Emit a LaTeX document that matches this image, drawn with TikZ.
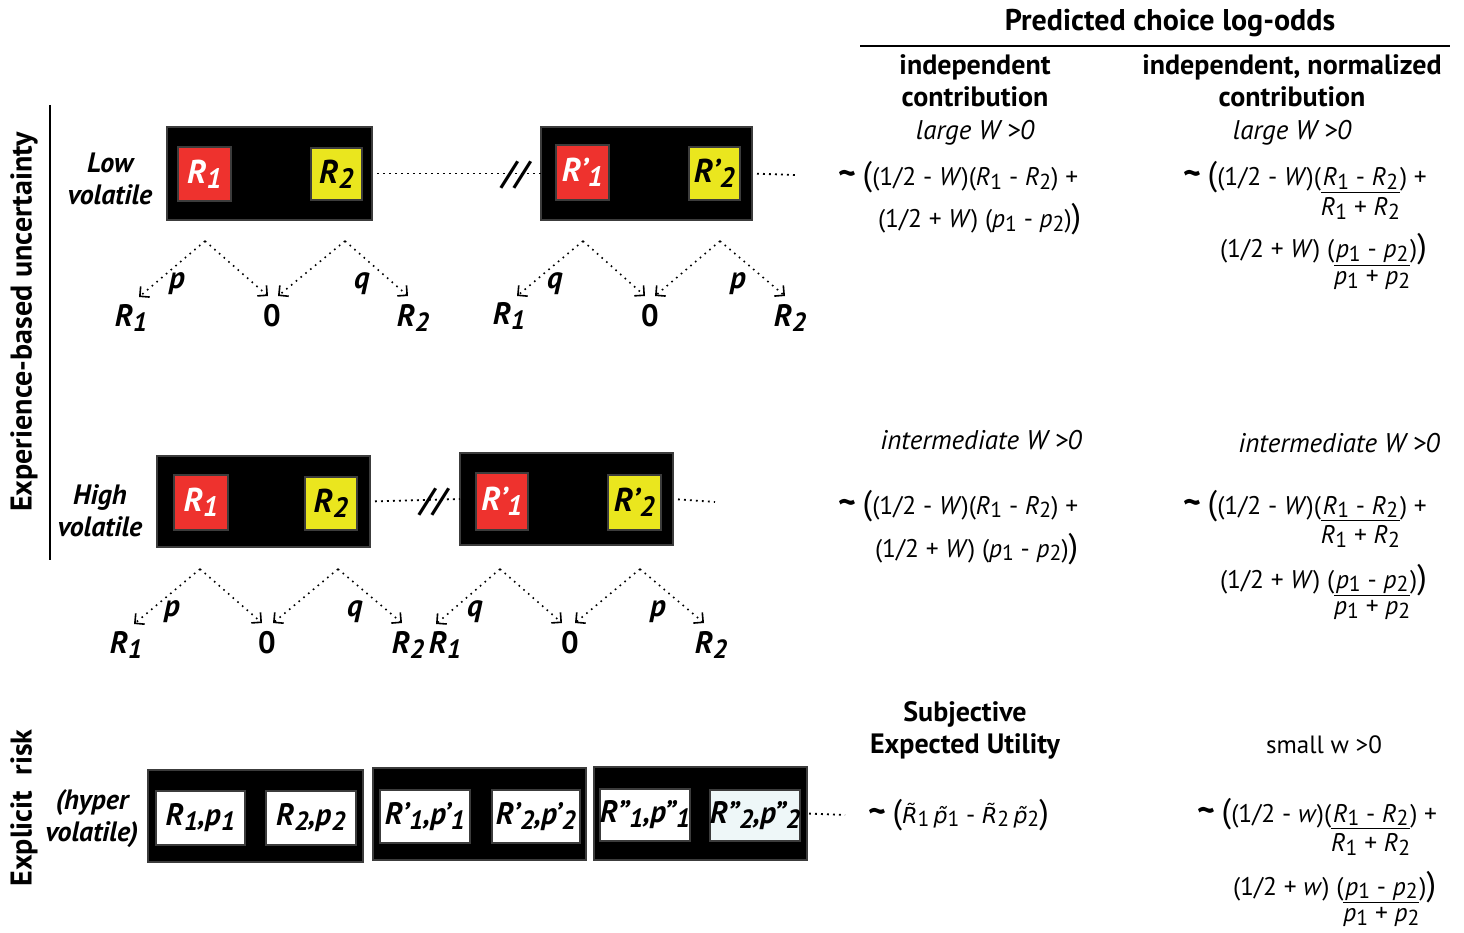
\documentclass[tikz,border=0pt]{standalone}
\usepackage{fontspec}
\usepackage{graphicx}
\setmainfont{PT Sans}
\newfontfamily\djv{DejaVu Sans}
\usetikzlibrary{arrows.meta}
\definecolor{bred}{RGB}{238,50,46}
\definecolor{byel}{RGB}{234,230,30}
\definecolor{bord}{RGB}{60,60,60}
\definecolor{lblue}{RGB}{238,247,248}
\newcommand\lsub[1]{\raisebox{-0.3ex}{\scalebox{0.85}{#1}}}
\newcommand\tld{{\fontsize{34}{34}\selectfont\bfseries\textasciitilde}}
\newcommand\bpo{{\fontsize{34}{34}\selectfont(}}
\newcommand\bpc{{\fontsize{34}{34}\selectfont)}}
\newcommand\tacc[1]{{\djv\fontsize{22}{26}\selectfont\itshape #1\char"0303}}
\newcommand\nfr[2]{\vtop{\halign{\hfil##\hfil\cr #1\cr\noalign{\kern2pt\hrule height 1.3pt\kern4pt}#2\cr}}}
\newcommand\fTitle{\fontsize{30}{32}\selectfont\bfseries}
\newcommand\fHead{\fontsize{28}{32}\selectfont\bfseries}
\newcommand\fSide{\fontsize{30}{32}\selectfont\bfseries}
\newcommand\fLbl{\fontsize{28}{32}\selectfont\bfseries\itshape}
\newcommand\fBox{\fontsize{33}{33}\selectfont\bfseries\itshape}
\newcommand\fWB{\fontsize{31}{31}\selectfont\bfseries\itshape}
\newcommand\fTree{\fontsize{31}{31}\selectfont\bfseries\itshape}
\newcommand\fZero{\fontsize{31}{31}\selectfont\bfseries}
\newcommand\fF{\fontsize{25.5}{28}\selectfont}
\newcommand\fW{\fontsize{27}{28}\selectfont\itshape}
\begin{document}
\begin{tikzpicture}[x=1pt,y=-1pt,
  every node/.style={inner sep=0pt,outer sep=0pt},
  blk/.style={draw=bord,fill=black,line width=1.2pt},
  rb/.style={draw=bord,fill=bred,line width=1.5pt,text=white,font=\fBox},
  yb/.style={draw=bord,fill=byel,line width=1.5pt,text=black,font=\fBox},
  wb/.style={draw=bord,fill=white,line width=1.5pt,text=black,font=\fWB},
  dots/.style={line width=1.8pt,dash pattern=on 1.8pt off 4.2pt},
  tr/.style={line width=1.6pt,dash pattern=on 1.6pt off 4.6pt,-{Straight Barb[length=7pt,width=14pt,line width=1.6pt]}},
  tlab/.style={font=\fTree},
  zlab/.style={font=\fZero},
  lbl/.style={font=\fLbl,align=center},
  head/.style={font=\fHead,align=center},
  fml/.style={font=\fF,anchor=base west},
  wlab/.style={font=\fW}]
\useasboundingbox (0,0) rectangle (1464,933);

% ---------- header ----------
\node[font=\fTitle] (title) at (1170,23) {Predicted choice log-odds};
\coordinate (hl) at (860,46); \coordinate (hr) at (1450,46);
\draw[line width=1.5pt] (hl) -- (hr);
\node[head] (col1) at (975,81) {independent\\contribution};
\node[head] (col2) at (1292,81) {independent, normalized\\contribution};

% ---------- left labels ----------
\node[font=\fSide,rotate=90] (exp) at (24,322) {Experience-based uncertainty};
\coordinate (vt) at (50,105); \coordinate (vb) at (50,560);
\draw[line width=1.5pt] (vt) -- (vb);
\node[font=\fSide,rotate=90] (expl) at (24,808) {Explicit\ \ risk};
\node[lbl] (low) at (110,179) {Low\\volatile};
\node[lbl] (high) at (100,511) {High\\volatile};
\node[lbl] (hyper) at (92,819) {(hyper\\volatile)};

% ---------- low volatile ----------
\node[blk,minimum width=205,minimum height=93] (b1) at (269.5,173.5) {};
\node[rb,minimum width=53,minimum height=54] (r1) at (204.5,174) {\textit{R}\lsub{1}};
\node[yb,minimum width=51,minimum height=52] (y1) at (336.5,174) {\textit{R}\lsub{2}};
\node[blk,minimum width=211,minimum height=93] (b2) at (646.5,173.5) {};
\node[rb,minimum width=53,minimum height=55] (r2) at (582.5,172.5) {\textit{R’}\lsub{1}};
\node[yb,minimum width=51,minimum height=53] (y2) at (714.5,173.5) {\textit{R’}\lsub{2}};
\draw[dots,shorten <=5pt] (b1.east) -- (b2.west);
\node[font=\fBox] (sl1) at (515,175) {//};
\coordinate (e1) at (795,175);
\draw[dots,shorten <=5pt] (b2.east) -- (e1);

% trees low
\coordinate (a1) at (205,241); \coordinate (a2) at (345,241);
\coordinate (t1) at (139,297); \coordinate (t2) at (268,296);
\coordinate (t3) at (278,296); \coordinate (t4) at (408,296);
\draw[tr] (a1) -- (t1); \draw[tr] (a1) -- (t2);
\draw[tr] (a2) -- (t3); \draw[tr] (a2) -- (t4);
\node[tlab] (p1) at (177,284) {p};
\node[tlab] (q1) at (362,284) {q};
\node[tlab] (o1a) at (131,318) {\textit{R}\lsub{1}};
\node[zlab] (o1b) at (272,316) {0};
\node[tlab] (o1c) at (413,318) {\textit{R}\lsub{2}};
\coordinate (a3) at (583,241); \coordinate (a4) at (720,241);
\coordinate (t5) at (517,296); \coordinate (t6) at (645,296);
\coordinate (t7) at (655,296); \coordinate (t8) at (785,296);
\draw[tr] (a3) -- (t5); \draw[tr] (a3) -- (t6);
\draw[tr] (a4) -- (t7); \draw[tr] (a4) -- (t8);
\node[tlab] (q2) at (555,284) {q};
\node[tlab] (p2) at (738,284) {p};
\node[tlab] (o2a) at (509,316) {\textit{R}\lsub{1}};
\node[zlab] (o2b) at (650,316) {0};
\node[tlab] (o2c) at (790,318) {\textit{R}\lsub{2}};

% ---------- high volatile ----------
\node[blk,minimum width=213,minimum height=91] (b3) at (263.5,501.5) {};
\node[rb,minimum width=54,minimum height=55] (r3) at (201,502.5) {\textit{R}\lsub{1}};
\node[yb,minimum width=52,minimum height=53] (y3) at (331,503.5) {\textit{R}\lsub{2}};
\node[blk,minimum width=213,minimum height=92] (b4) at (566.5,499) {};
\node[rb,minimum width=52,minimum height=57] (r4) at (502,501.5) {\textit{R’}\lsub{1}};
\node[yb,minimum width=53,minimum height=55] (y4) at (634.5,502.5) {\textit{R’}\lsub{2}};
\draw[dots,shorten <=5pt] (b3.east) -- (b4.west);
\node[font=\fBox] (sl2) at (433,502) {//};
\coordinate (e2) at (715,502);
\draw[dots,shorten <=5pt] (b4.east) -- (e2);

% trees high
\coordinate (a5) at (200,569); \coordinate (a6) at (338,569);
\coordinate (t9) at (134,624); \coordinate (t10) at (262,623);
\coordinate (t11) at (273,623); \coordinate (t12) at (402,623);
\draw[tr] (a5) -- (t9); \draw[tr] (a5) -- (t10);
\draw[tr] (a6) -- (t11); \draw[tr] (a6) -- (t12);
\node[tlab] (p3) at (172,612) {p};
\node[tlab] (q3) at (355,612) {q};
\node[tlab] (o3a) at (126,645) {\textit{R}\lsub{1}};
\node[zlab] (o3b) at (267,643) {0};
\node[tlab] (o3c) at (408,645) {\textit{R}\lsub{2}};
\coordinate (a7) at (500,569); \coordinate (a8) at (640,569);
\coordinate (t13) at (436,624); \coordinate (t14) at (562,623);
\coordinate (t15) at (575,623); \coordinate (t16) at (704,623);
\draw[tr] (a7) -- (t13); \draw[tr] (a7) -- (t14);
\draw[tr] (a8) -- (t15); \draw[tr] (a8) -- (t16);
\node[tlab] (q4) at (475,612) {q};
\node[tlab] (p4) at (658,612) {p};
\node[tlab] (o4a) at (445,645) {\textit{R}\lsub{1}};
\node[zlab] (o4b) at (570,643) {0};
\node[tlab] (o4c) at (711,645) {\textit{R}\lsub{2}};

% ---------- explicit risk ----------
\node[blk,minimum width=215,minimum height=92] (b5) at (255.5,816) {};
\node[wb,minimum width=89,minimum height=54] (w1) at (200.5,818) {\textit{R}\lsub{1},\textit{p}\lsub{1}};
\node[wb,minimum width=90,minimum height=54] (w2) at (311,818) {\textit{R}\lsub{2},\textit{p}\lsub{2}};
\node[blk,minimum width=213,minimum height=92] (b6) at (479.5,814) {};
\node[wb,minimum width=90,minimum height=53] (w3) at (425,816.5) {\textit{R’}\lsub{1},\textit{p’}\lsub{1}};
\node[wb,minimum width=88,minimum height=53] (w4) at (536,816.5) {\textit{R’}\lsub{2},\textit{p’}\lsub{2}};
\node[blk,minimum width=213,minimum height=93] (b7) at (700.5,813.5) {};
\node[wb,minimum width=90,minimum height=52] (w5) at (645,815) {\textit{R”}\lsub{1},\textit{p”}\lsub{1}};
\node[wb,fill=lblue,minimum width=90,minimum height=51] (w6) at (755,815.5) {\textit{R”}\lsub{2},\textit{p”}\lsub{2}};
\coordinate (e3) at (845,815);
\draw[dots,shorten <=2pt] (b7.east) -- (e3);

% ---------- formulas: top ----------
\node[wlab] (lw1) at (975,133) {large \textit{W} >0};
\node[wlab] (lw2) at (1292,133) {large \textit{W} >0};
\node[fml] (f1a) at (838,186) {\tld\ \bpo(1/2 - \textit{W})(\textit{R}\lsub{1} - \textit{R}\lsub{2}) +};
\node[fml] (f1b) at (878,228) {(1/2 + \textit{W}) (\textit{p}\lsub{1} - \textit{p}\lsub{2})\bpc};
\node[fml] (g1a) at (1183,186) {\tld\ \bpo(1/2 - \textit{W})(\nfr{\textit{R}\lsub{1} - \textit{R}\lsub{2}}{\textit{R}\lsub{1} + \textit{R}\lsub{2}}) +};
\node[fml] (g1b) at (1220,258) {(1/2 + \textit{W}) (\nfr{\textit{p}\lsub{1} - \textit{p}\lsub{2}}{\textit{p}\lsub{1} + \textit{p}\lsub{2}})\bpc};

% ---------- formulas: middle ----------
\node[wlab] (iw1) at (981,440) {intermediate \textit{W} >0};
\node[wlab] (iw2) at (1339,443) {intermediate \textit{W} >0};
\node[fml] (f2a) at (838,514) {\tld\ \bpo(1/2 - \textit{W})(\textit{R}\lsub{1} - \textit{R}\lsub{2}) +};
\node[fml] (f2b) at (875,557) {(1/2 + \textit{W}) (\textit{p}\lsub{1} - \textit{p}\lsub{2})\bpc};
\node[fml] (g2a) at (1183,514) {\tld\ \bpo(1/2 - \textit{W})(\nfr{\textit{R}\lsub{1} - \textit{R}\lsub{2}}{\textit{R}\lsub{1} + \textit{R}\lsub{2}}) +};
\node[fml] (g2b) at (1220,588) {(1/2 + \textit{W}) (\nfr{\textit{p}\lsub{1} - \textit{p}\lsub{2}}{\textit{p}\lsub{1} + \textit{p}\lsub{2}})\bpc};

% ---------- formulas: bottom ----------
\node[head] (seu) at (965,730) {Subjective\\Expected Utility};
\node[font=\fontsize{25}{28}\selectfont] (sw) at (1324,745) {small w >0};
\node[fml] (f3) at (868,823) {\tld\ \bpo\tacc{R}\lsub{1}\,\tacc{p}\lsub{1} - \tacc{R}\lsub{2}\,\tacc{p}\lsub{2}\bpc};
\node[fml] (g3a) at (1197,822) {\tld\ \bpo(1/2 - \textit{w})(\nfr{\textit{R}\lsub{1} - \textit{R}\lsub{2}}{\textit{R}\lsub{1} + \textit{R}\lsub{2}}) +};
\node[fml] (g3b) at (1233,895) {(1/2 + \textit{w}) (\nfr{\textit{p}\lsub{1} - \textit{p}\lsub{2}}{\textit{p}\lsub{1} + \textit{p}\lsub{2}})\bpc};
\end{tikzpicture}
\end{document}
